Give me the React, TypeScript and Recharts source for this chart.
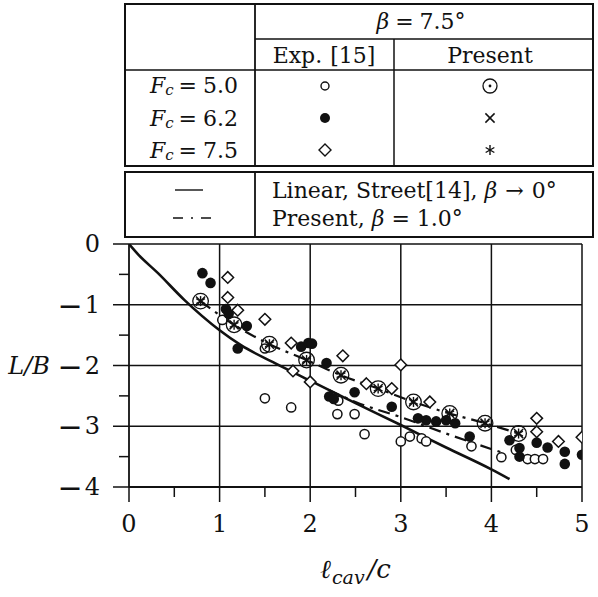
import React from 'react';
import { ComposedChart, Scatter, Line, XAxis, YAxis, ReferenceLine } from 'recharts';

// ---- data ----
const xTicks = [0, 0.5, 1, 1.5, 2, 2.5, 3, 3.5, 4, 4.5, 5];
const yTicks = [0, -0.5, -1, -1.5, -2, -2.5, -3, -3.5, -4];
const xGrid = [1, 2, 3, 4, 5];
const yGrid = [0, -1, -2, -3];

// Exp. [15], Fc = 5.0 (open circles)
const expF50X = [1.03, 1.5, 1.5, 1.79, 2.31, 2.3, 2.49, 2.6, 3.0, 3.1, 3.23, 3.28, 3.78, 4.11, 4.27, 4.4, 4.48, 4.57];
const expF50Y = [-1.25, -1.72, -2.54, -2.69, -2.58, -2.8, -2.8, -3.13, -3.25, -3.17, -3.2, -3.25, -3.33, -3.51, -3.39, -3.54, -3.54, -3.54];

// Exp. [15], Fc = 6.2 (filled circles)
const expF62X = [0.81, 0.9, 1.07, 1.1, 1.3, 1.2, 1.9, 1.98, 2.02, 2.18, 2.21, 2.26, 2.49, 2.9, 3.19, 3.28, 3.39, 3.5, 3.6, 3.76, 4.2, 4.31, 4.31, 4.5, 4.62, 4.81, 4.81, 5.0];
const expF62Y = [-0.48, -0.64, -1.07, -1.15, -1.35, -1.72, -1.69, -1.63, -1.64, -1.96, -2.51, -2.55, -2.44, -2.68, -2.87, -2.9, -2.92, -2.9, -2.95, -3.17, -3.23, -3.36, -3.5, -3.27, -3.35, -3.42, -3.62, -3.47];

// Exp. [15], Fc = 7.5 (diamonds)
const expF75X = [1.09, 1.09, 1.2, 1.5, 1.79, 1.81, 2.0, 2.36, 2.62, 2.9, 3.0, 3.32, 4.5, 4.5, 4.74, 5.0];
const expF75Y = [-0.55, -0.88, -1.09, -1.24, -1.63, -2.09, -2.27, -1.84, -2.3, -2.38, -1.99, -2.6, -2.87, -3.09, -3.25, -3.18];

// Present, beta = 7.5 deg (Fc = 5.0, 6.2, 7.5 coincide)
const presentX = [0.79, 1.16, 1.55, 1.96, 2.34, 2.75, 3.14, 3.54, 3.93, 4.3];
const presentF50Y = [-0.94, -1.33, -1.65, -1.91, -2.16, -2.38, -2.6, -2.79, -2.95, -3.12];
const presentF62Y = [-0.94, -1.33, -1.65, -1.91, -2.16, -2.38, -2.6, -2.79, -2.95, -3.12];
const presentF75Y = [-0.94, -1.33, -1.65, -1.91, -2.16, -2.38, -2.6, -2.79, -2.95, -3.12];

// Linear, Street [14], beta -> 0
const streetX = [0, 0.1, 0.32, 0.61, 1.0, 1.24, 1.61, 2.0, 2.5, 3.0, 3.5, 4.0, 4.2];
const streetY = [0, -0.17, -0.48, -0.92, -1.42, -1.67, -1.96, -2.25, -2.62, -2.98, -3.35, -3.71, -3.87];

// Present, beta = 1.0 deg
const present1X = [2.2, 2.5, 3.0, 3.5, 4.15];
const present1Y = [-2.4, -2.6, -2.85, -3.12, -3.45];

const pts = (xs: number[], ys: number[]) => xs.map((x, i) => ({ x, y: ys[i] }));

const FONT = '"DejaVu Serif", "Liberation Serif", serif';
const INK = '#111';

// ---- marker shapes ----
const OpenCircle = (p: any) => (
  <circle cx={p.cx} cy={p.cy} r={4.6} fill="#fff" stroke={INK} strokeWidth={1.5} />
);
const FilledCircle = (p: any) => <circle cx={p.cx} cy={p.cy} r={5.3} fill={INK} />;
const Diamond = (p: any) => {
  const s = 5.8;
  return (
    <path
      d={`M${p.cx},${p.cy - s}L${p.cx + s},${p.cy}L${p.cx},${p.cy + s}L${p.cx - s},${p.cy}Z`}
      fill="#fff"
      stroke={INK}
      strokeWidth={1.5}
    />
  );
};
const DotCircle = (p: any) => (
  <g>
    <circle cx={p.cx} cy={p.cy} r={7.8} fill="none" stroke={INK} strokeWidth={1.3} />
    <circle cx={p.cx} cy={p.cy} r={1.5} fill={INK} />
  </g>
);
const Cross = (p: any) => {
  const s = 4.6;
  return (
    <g stroke={INK} strokeWidth={1.5}>
      <line x1={p.cx - s} y1={p.cy - s} x2={p.cx + s} y2={p.cy + s} />
      <line x1={p.cx - s} y1={p.cy + s} x2={p.cx + s} y2={p.cy - s} />
    </g>
  );
};
const Star = (p: any) => {
  const r = 5;
  const angs = [90, 150, 210, 270, 330, 30];
  return (
    <g stroke={INK} strokeWidth={1.4}>
      {angs.map((a) => (
        <line
          key={a}
          x1={p.cx}
          y1={p.cy}
          x2={p.cx + r * Math.cos((a * Math.PI) / 180)}
          y2={p.cy - r * Math.sin((a * Math.PI) / 180)}
        />
      ))}
    </g>
  );
};

// ---- ticks ----
const isMajor = (v: number) => Math.abs(v - Math.round(v)) < 1e-6;

const XTick = (props: any) => {
  const { x, y, payload } = props;
  const v = payload.value;
  const major = isMajor(v);
  return (
    <g>
      <line x1={x} x2={x} y1={y} y2={y + (major ? 15 : 10)} stroke={INK} strokeWidth={1.5} />
      {major && (
        <text x={x} y={y + 37} textAnchor="middle" dominantBaseline="central" fontFamily={FONT} fontSize={24} fill={INK}>
          {String(Math.abs(v))}
        </text>
      )}
    </g>
  );
};

const YTick = (props: any) => {
  const { x, y, payload } = props;
  const v = payload.value;
  const major = isMajor(v);
  const neg = v < -1e-6;
  return (
    <g>
      <line x1={x - (major ? 16 : 10)} x2={x} y1={y} y2={y} stroke={INK} strokeWidth={1.5} />
      {major && (
        <text x={x - 29} y={y} textAnchor="end" dominantBaseline="central" fontFamily={FONT} fontSize={24} fill={INK}>
          {neg && <tspan fontSize={30}>{'\u2212'}</tspan>}
          <tspan dx={neg ? 2 : 0}>{String(Math.abs(Math.round(v)))}</tspan>
        </text>
      )}
      {major && Math.round(v) === -2 && (
        <text x={x - 79} y={y} textAnchor="end" dominantBaseline="central" fontFamily={FONT} fontStyle="italic" fontSize={24} fill={INK}>
          L/B
        </text>
      )}
    </g>
  );
};

const XLabel = (props: any) => {
  const vb = props.viewBox || { x: 129, width: 453 };
  const cx = vb.x + vb.width / 2;
  return (
    <text x={cx} y={578} textAnchor="middle" fontFamily={FONT} fontStyle="italic" fontSize={26} fill={INK}>
      <tspan>ℓ</tspan>
      <tspan fontSize={19} dy={6} dx={1}>cav</tspan>
      <tspan dy={-6} dx={3}>/c</tspan>
    </text>
  );
};

// ---- legend tables (overlay) ----
const TS = 22;

const Fc = ({ x, y, val }: { x: number; y: number; val: string }) => (
  <text x={x} y={y} textAnchor="end" dominantBaseline="central" fontFamily={FONT} fontSize={TS} fill={INK}>
    <tspan fontStyle="italic">F</tspan>
    <tspan fontStyle="italic" fontSize={15} dy={5}>c</tspan>
    <tspan dy={-5} dx={5}>=</tspan>
    <tspan dx={6}>{val}</tspan>
  </text>
);

const Tables = () => (
  <svg width={598} height={240} style={{ position: 'absolute', left: 0, top: 0, pointerEvents: 'none' }}>
    {/* table 1 */}
    <rect x={125} y={4} width={468} height={162} fill="#fff" stroke={INK} strokeWidth={2} />
    <line x1={255} x2={255} y1={4} y2={166} stroke={INK} strokeWidth={1.8} />
    <line x1={255} x2={593} y1={39} y2={39} stroke={INK} strokeWidth={1.5} />
    <line x1={125} x2={593} y1={70} y2={70} stroke={INK} strokeWidth={1.5} />
    <line x1={394} x2={394} y1={39} y2={166} stroke={INK} strokeWidth={1.5} />
    <text x={421} y={21} textAnchor="middle" dominantBaseline="central" fontFamily={FONT} fontSize={TS} fill={INK}>
      <tspan fontStyle="italic">β</tspan>
      <tspan dx={6}>=</tspan>
      <tspan dx={6}>7.5°</tspan>
    </text>
    <text x={324} y={55} textAnchor="middle" dominantBaseline="central" fontFamily={FONT} fontSize={TS} fill={INK}>
      <tspan>Exp.</tspan>
      <tspan dx={8}>[15]</tspan>
    </text>
    <text x={490} y={55} textAnchor="middle" dominantBaseline="central" fontFamily={FONT} fontSize={TS} fill={INK}>
      Present
    </text>
    <Fc x={238} y={85} val="5.0" />
    <Fc x={238} y={118} val="6.2" />
    <Fc x={238} y={150} val="7.5" />
    <circle cx={325} cy={86} r={4} fill="#fff" stroke={INK} strokeWidth={1.4} />
    <circle cx={325} cy={118} r={5} fill={INK} />
    <path d="M325,144L331,150L325,156L319,150Z" fill="#fff" stroke={INK} strokeWidth={1.4} />
    <circle cx={490} cy={86} r={7} fill="none" stroke={INK} strokeWidth={1.3} />
    <circle cx={490} cy={86} r={1.4} fill={INK} />
    <Cross cx={490} cy={118} />
    <Star cx={490} cy={150} />

    {/* table 2 */}
    <rect x={125} y={172} width={468} height={65} fill="#fff" stroke={INK} strokeWidth={2} />
    <line x1={255} x2={255} y1={172} y2={237} stroke={INK} strokeWidth={1.8} />
    <line x1={175} x2={203} y1={190} y2={190} stroke={INK} strokeWidth={1.4} />
    <line x1={173} x2={212} y1={218} y2={218} stroke={INK} strokeWidth={1.4} strokeDasharray="10 8 2 8 10" />
    <text x={272} y={190} dominantBaseline="central" fontFamily={FONT} fontSize={TS} fill={INK}>
      <tspan>Linear,</tspan>
      <tspan dx={7}>Street[14],</tspan>
      <tspan dx={7} fontStyle="italic">β</tspan>
      <tspan dx={8}>→</tspan>
      <tspan dx={8}>0°</tspan>
    </text>
    <text x={272} y={218} dominantBaseline="central" fontFamily={FONT} fontSize={TS} fill={INK}>
      <tspan>Present,</tspan>
      <tspan dx={7} fontStyle="italic">β</tspan>
      <tspan dx={7}>=</tspan>
      <tspan dx={7}>1.0°</tspan>
    </text>
  </svg>
);

export default function App() {
  return (
    <div style={{ position: 'absolute', left: 0, top: 0, width: 598, height: 597, background: '#fff' }}>
      <ComposedChart width={598} height={597} margin={{ top: 244, right: 16, left: 0, bottom: 0 }}>
        <XAxis
          type="number"
          dataKey="x"
          domain={[0, 5]}
          ticks={xTicks}
          interval={0}
          allowDataOverflow
          axisLine={{ stroke: INK, strokeWidth: 1.8 }}
          tickLine={false}
          tickSize={0}
          tickMargin={0}
          tick={<XTick />}
          height={110}
          label={<XLabel />}
        />
        <YAxis
          type="number"
          dataKey="y"
          domain={[-4, 0]}
          ticks={yTicks}
          interval={0}
          allowDataOverflow
          axisLine={{ stroke: INK, strokeWidth: 1.8 }}
          tickLine={false}
          tickSize={0}
          tickMargin={0}
          tick={<YTick />}
          width={129}
        />
        {xGrid.map((v) => (
          <ReferenceLine key={'gx' + v} x={v} stroke={INK} strokeWidth={1.5} />
        ))}
        {yGrid.map((v) => (
          <ReferenceLine key={'gy' + v} y={v} stroke={INK} strokeWidth={1.5} />
        ))}
        <Line data={pts(streetX, streetY)} dataKey="y" type="monotone" dot={false} stroke={INK} strokeWidth={2.6} isAnimationActive={false} />
        <Line data={pts(present1X, present1Y)} dataKey="y" type="monotone" dot={false} stroke={INK} strokeWidth={2.2} strokeDasharray="12 6 3 6" isAnimationActive={false} />
        <Line data={pts(presentX, presentF50Y)} dataKey="y" type="monotone" dot={false} stroke={INK} strokeWidth={2.2} strokeDasharray="12 6 3 6" isAnimationActive={false} />
        <Scatter data={pts(expF50X, expF50Y)} dataKey="y" shape={OpenCircle} isAnimationActive={false} />
        <Scatter data={pts(expF62X, expF62Y)} dataKey="y" shape={FilledCircle} isAnimationActive={false} />
        <Scatter data={pts(expF75X, expF75Y)} dataKey="y" shape={Diamond} isAnimationActive={false} />
        <Scatter data={pts(presentX, presentF50Y)} dataKey="y" shape={DotCircle} isAnimationActive={false} />
        <Scatter data={pts(presentX, presentF62Y)} dataKey="y" shape={Cross} isAnimationActive={false} />
        <Scatter data={pts(presentX, presentF75Y)} dataKey="y" shape={Star} isAnimationActive={false} />
      </ComposedChart>
      <Tables />
    </div>
  );
}
